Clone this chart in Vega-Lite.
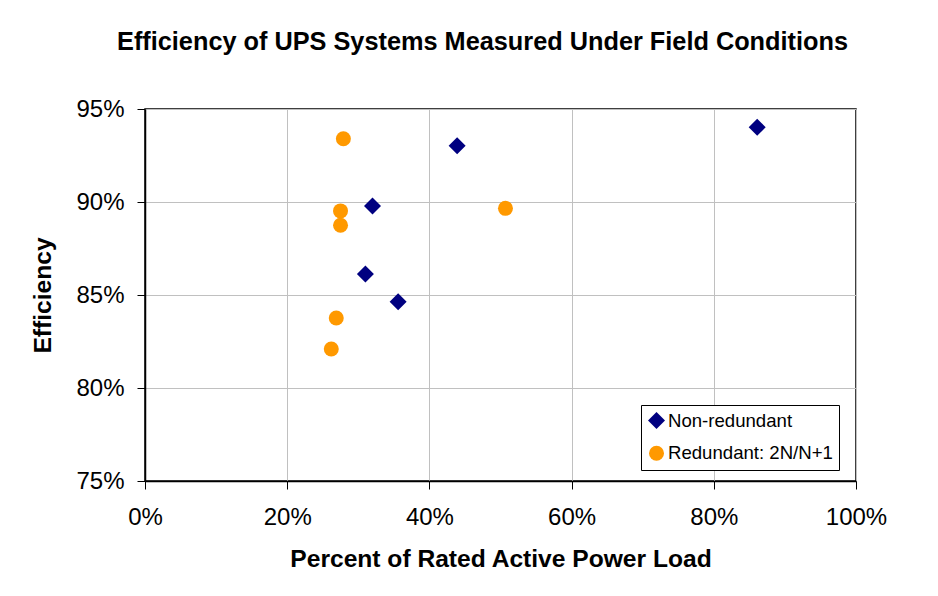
{
  "$schema": "https://vega.github.io/schema/vega-lite/v6.json",
  "width": 711,
  "height": 372,
  "autosize": {"type": "none"},
  "padding": {"left": 145, "top": 109, "right": 82, "bottom": 115},
  "background": "white",
  "title": {
    "text": "Efficiency of UPS Systems Measured Under Field Conditions",
    "font": "Liberation Sans",
    "fontSize": 25.3,
    "fontWeight": "bold",
    "color": "black",
    "anchor": "middle",
    "dx": -18,
    "offset": 42
  },
  "data": {
    "values": [
      {"load": 0.861, "eff": 0.9402, "series": "Non-redundant"},
      {"load": 0.439, "eff": 0.9303, "series": "Non-redundant"},
      {"load": 0.320, "eff": 0.8978, "series": "Non-redundant"},
      {"load": 0.310, "eff": 0.8613, "series": "Non-redundant"},
      {"load": 0.356, "eff": 0.8464, "series": "Non-redundant"},
      {"load": 0.279, "eff": 0.9340, "series": "Redundant: 2N/N+1"},
      {"load": 0.275, "eff": 0.8952, "series": "Redundant: 2N/N+1"},
      {"load": 0.275, "eff": 0.8875, "series": "Redundant: 2N/N+1"},
      {"load": 0.507, "eff": 0.8966, "series": "Redundant: 2N/N+1"},
      {"load": 0.269, "eff": 0.8376, "series": "Redundant: 2N/N+1"},
      {"load": 0.262, "eff": 0.8210, "series": "Redundant: 2N/N+1"}
    ]
  },
  "mark": {"type": "point", "filled": true, "opacity": 1},
  "encoding": {
    "x": {
      "field": "load",
      "type": "quantitative",
      "title": "Percent of Rated Active Power Load",
      "scale": {"domain": [0, 1], "nice": false, "zero": false},
      "axis": {"format": ".0%", "values": [0, 0.2, 0.4, 0.6, 0.8, 1], "titlePadding": 18, "labelPadding": 16, "labelFlush": false}
    },
    "y": {
      "field": "eff",
      "type": "quantitative",
      "title": "Efficiency",
      "scale": {"domain": [0.75, 0.95], "nice": false, "zero": false},
      "axis": {"format": ".0%", "values": [0.75, 0.8, 0.85, 0.9, 0.95], "titlePadding": 20, "labelPadding": 13, "labelFlush": false}
    },
    "color": {
      "field": "series",
      "type": "nominal",
      "scale": {"domain": ["Non-redundant", "Redundant: 2N/N+1"], "range": ["#000080", "#FF9900"]},
      "legend": {
        "title": null,
        "orient": "none",
        "legendX": 496,
        "legendY": 296,
        "padding": 6,
        "strokeColor": "black",
        "fillColor": "white",
        "labelFont": "Liberation Sans",
        "labelFontSize": 18.6,
        "labelColor": "black",
        "labelOffset": 2,
        "labelLimit": 400,
        "rowPadding": 10,
        "symbolSize": 150,
        "symbolOpacity": 1,
        "cornerRadius": 0
      }
    },
    "shape": {
      "field": "series",
      "type": "nominal",
      "scale": {"domain": ["Non-redundant", "Redundant: 2N/N+1"], "range": ["diamond", "circle"]}
    },
    "size": {
      "field": "series",
      "type": "nominal",
      "scale": {"domain": ["Non-redundant", "Redundant: 2N/N+1"], "range": [289, 225]},
      "legend": null
    }
  },
  "config": {
    "font": "Liberation Sans",
    "view": {"stroke": "black", "strokeWidth": 1.5},
    "axis": {
      "labelFont": "Liberation Sans",
      "labelFontSize": 24,
      "labelColor": "black",
      "titleFont": "Liberation Sans",
      "titleFontSize": 24.6,
      "titleFontWeight": "bold",
      "titleColor": "black",
      "domainColor": "black",
      "domainWidth": 1.5,
      "tickColor": "black",
      "tickSize": 8,
      "tickWidth": 1,
      "gridColor": "#C0C0C0",
      "gridWidth": 1,
      "gridOpacity": 1
    }
  }
}
